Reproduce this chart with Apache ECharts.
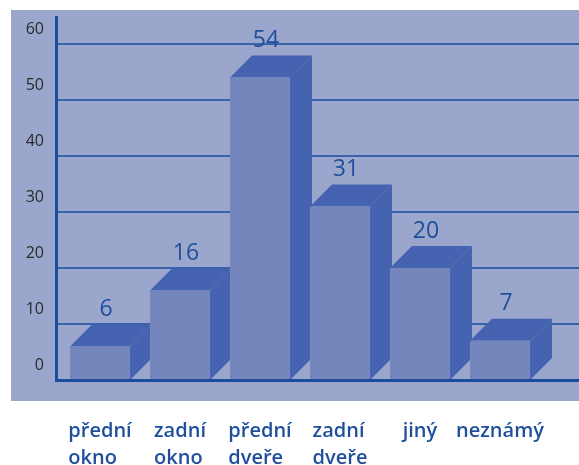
<!DOCTYPE html>
<html>
<head>
<meta charset="utf-8">
<script src="https://cdn.jsdelivr.net/npm/echarts@6/dist/echarts.min.js"></script>
<style>
  html, body { margin: 0; padding: 0; background: #ffffff; }
  #chart { width: 579px; height: 465px; }
</style>
</head>
<body>
<div id="chart"></div>
<script>
// Categories and counts for the bar chart
const categories = ['přední\nokno', 'zadní\nokno', 'přední\ndveře', 'zadní\ndveře', 'jiný', 'neznámý'];
const counts = [6, 16, 54, 31, 20, 7];
const yTicks = [0, 10, 20, 30, 40, 50, 60];

const PANEL = '#9ba6cc';
const FRONT = '#7586bd';
const SIDE = '#4563b0';
const LINE = '#1c4d9d';
const TEXT_BLUE = '#1f4f9c';
const DEPTH = 22;

const chart = echarts.init(document.getElementById('chart'), null, { renderer: 'canvas' });

// 3D-looking bar: front face, top face and right side face, plus the value above
function renderBar(params, api) {
  const i = api.value(0);
  const v = api.value(1);
  const top = api.coord([i, v]);
  const base = api.coord([i, 0]);
  const band = api.size([1, 0])[0];
  const w = band * 0.75;
  const x0 = top[0] - w / 2;
  const x1 = top[0] + w / 2;
  const yT = top[1];
  const yB = base[1];
  return {
    type: 'group',
    children: [
      {
        type: 'polygon',
        shape: { points: [[x1, yT], [x1 + DEPTH, yT - DEPTH], [x1 + DEPTH, yB - DEPTH], [x1, yB]] },
        style: { fill: SIDE }
      },
      {
        type: 'polygon',
        shape: { points: [[x0, yT], [x0 + DEPTH, yT - DEPTH], [x1 + DEPTH, yT - DEPTH], [x1, yT]] },
        style: { fill: SIDE }
      },
      {
        type: 'rect',
        shape: { x: x0, y: yT, width: w, height: yB - yT },
        style: { fill: FRONT }
      },
      {
        type: 'text',
        style: {
          x: top[0] + 6,
          y: yT - DEPTH - 15,
          text: String(v),
          fill: TEXT_BLUE,
          font: '23px "Open Sans", sans-serif',
          align: 'center',
          verticalAlign: 'middle'
        }
      }
    ]
  };
}

const option = {
  backgroundColor: '#ffffff',
  animation: false,
  graphic: [
    { type: 'rect', z: -10, shape: { x: 11, y: 10, width: 568, height: 391 }, style: { fill: PANEL } },
    { type: 'line', z: 10, shape: { x1: 56.5, y1: 16, x2: 56.5, y2: 382 }, style: { stroke: LINE, lineWidth: 3 } }
  ],
  grid: [
    { left: 57, right: 0, top: 44, bottom: 85, outerBoundsMode: 'none', containLabel: false },
    { left: 60, right: 39, top: 44, bottom: 85, outerBoundsMode: 'none', containLabel: false }
  ],
  xAxis: [
    {
      gridIndex: 0, type: 'category', data: [''],
      axisLine: { show: true, lineStyle: { color: LINE, width: 3 } },
      axisTick: { show: false }, axisLabel: { show: false }, z: 10
    },
    {
      gridIndex: 1, type: 'category', data: categories,
      axisLine: { show: false }, axisTick: { show: false },
      axisLabel: {
        interval: 0, hideOverlap: false,
        margin: 38,
        align: 'center', verticalAlign: 'top',
        // two-line labels stacked flush left
        formatter: (val) => val.split('\n').map((s) => '{c|' + s + '}').join('\n'),
        rich: {
          c: {
            align: 'left', color: TEXT_BLUE, fontSize: 20, fontWeight: 600,
            fontFamily: '"Open Sans", sans-serif', lineHeight: 27
          }
        }
      }
    }
  ],
  yAxis: [
    {
      gridIndex: 0, type: 'value', min: yTicks[0], max: yTicks[yTicks.length - 1], interval: 10,
      axisLine: { show: false }, axisTick: { show: false },
      splitLine: { show: true, lineStyle: { color: LINE, width: 1.5 } },
      axisLabel: {
        margin: 13, color: '#2a2a2a', fontSize: 16,
        fontFamily: '"Open Sans", sans-serif',
        verticalAlign: 'bottom', lineHeight: 30
      }
    },
    {
      gridIndex: 1, type: 'value', min: yTicks[0], max: yTicks[yTicks.length - 1], interval: 10,
      show: false
    }
  ],
  series: [
    {
      type: 'custom',
      xAxisIndex: 1,
      yAxisIndex: 1,
      renderItem: renderBar,
      data: counts.map((v, i) => [i, v]),
      z: 5
    }
  ]
};

chart.setOption(option);
</script>
</body>
</html>
